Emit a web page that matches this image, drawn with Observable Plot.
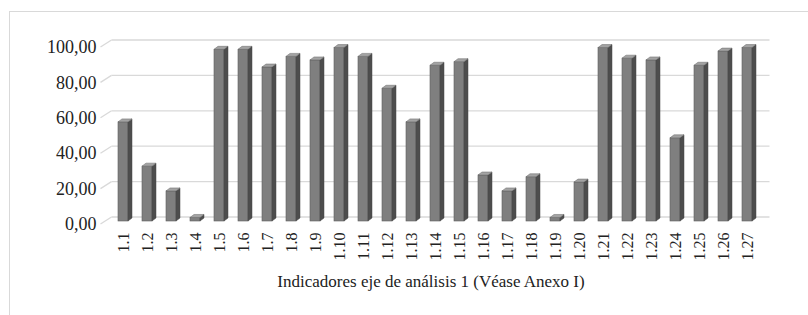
<!DOCTYPE html>
<html><head><meta charset="utf-8">
<script src="https://cdn.jsdelivr.net/npm/d3@7"></script>
<script src="https://cdn.jsdelivr.net/npm/@observablehq/plot@0.6"></script>
<style>
html,body{margin:0;padding:0;background:#fff;}
#wrap{position:relative;width:808px;height:315px;overflow:hidden;}
#frame{position:absolute;left:9px;top:11px;width:820px;height:330px;border-top:1px solid #d9d9d9;border-left:1px solid #d9d9d9;}
#chart{position:absolute;left:0;top:0;}
#chart svg, #chart svg text{font-family:"Liberation Serif","Times New Roman","DejaVu Serif",serif !important;}
#title{position:absolute;left:0;width:862px;top:272px;text-align:center;font-family:"Liberation Serif","Times New Roman","DejaVu Serif",serif;font-size:17px;color:#222;white-space:nowrap;}
</style>
</head><body>
<div id="wrap"><div id="frame"></div><div id="chart"></div><div id="title">Indicadores eje de análisis 1 (Véase Anexo I)</div></div>
<script>
const categories = ["1.1","1.2","1.3","1.4","1.5","1.6","1.7","1.8","1.9","1.10","1.11","1.12","1.13","1.14","1.15","1.16","1.17","1.18","1.19","1.20","1.21","1.22","1.23","1.24","1.25","1.26","1.27"];
const values = [56,31,17,2,97,97,87,93,91,98,93,75,56,88,90,26,17,25,2,22,98,92,91,47,88,96,98];
const yTicks = [0,20,40,60,80,100];

const data = categories.map((c, i) => ({cat: c, value: values[i]}));
const fmt = d => d3.format(".2f")(d).replace(".", ",");
const NS = "http://www.w3.org/2000/svg";
const DX = 4, DY = -3;

const chart = Plot.plot({
  width: 808,
  height: 270,
  marginLeft: 106,
  marginRight: 44,
  marginTop: 44,
  marginBottom: 49,
  style: {fontFamily: "'Liberation Serif', 'Times New Roman', serif", fontSize: "16px", color: "#222", background: "transparent"},
  x: {domain: categories, paddingInner: 0.58, paddingOuter: 0.285},
  y: {domain: [0, 100]},
  marks: [
    Plot.ruleY(yTicks, {
      y: d => d, stroke: "#d9d9d9", strokeWidth: 1.3, dx: 5.5, dy: -4.5,
      render(index, scales, values, dims, ctx, next) {
        const g = next(index, scales, values, dims, ctx);
        for (const l of Array.from(g.querySelectorAll("line"))) {
          const x1 = +l.getAttribute("x1"), y1 = +l.getAttribute("y1");
          const d = document.createElementNS(NS, "line");
          d.setAttribute("x1", x1 - 11); d.setAttribute("y1", y1 + 7);
          d.setAttribute("x2", x1); d.setAttribute("y2", y1);
          g.appendChild(d);
        }
        return g;
      }
    }),
    Plot.barY(data, {
      x: "cat", y: "value", fill: "#7f7f7f", stroke: "#5e5e5e", strokeWidth: 0.6,
      render(index, scales, values, dims, ctx, next) {
        const g = next(index, scales, values, dims, ctx);
        for (const r of Array.from(g.querySelectorAll("rect"))) {
          const x = +r.getAttribute("x"), y = +r.getAttribute("y");
          const w = +r.getAttribute("width"), h = +r.getAttribute("height");
          const side = document.createElementNS(NS, "polygon");
          side.setAttribute("points", `${x+w},${y+h} ${x+w+DX},${y+h+DY} ${x+w+DX},${y+DY} ${x+w},${y}`);
          side.setAttribute("fill", "#4d4d4d"); side.setAttribute("stroke", "#444"); side.setAttribute("stroke-width", 0.5);
          const top = document.createElementNS(NS, "polygon");
          top.setAttribute("points", `${x},${y} ${x+DX},${y+DY} ${x+w+DX},${y+DY} ${x+w},${y}`);
          top.setAttribute("fill", "#a3a3a3"); top.setAttribute("stroke", "#666"); top.setAttribute("stroke-width", 0.5);
          g.appendChild(side); g.appendChild(top);
        }
        return g;
      }
    }),
    Plot.axisY({ticks: yTicks, tickFormat: fmt, tickSize: 0, tickPadding: 10, dy: 3, fontSize: 18, label: null}),
    Plot.axisX({tickRotate: -90, tickSize: 0, tickPadding: 11, fontSize: 16, label: null})
  ]
});
document.getElementById("chart").appendChild(chart);
</script>
</body></html>
